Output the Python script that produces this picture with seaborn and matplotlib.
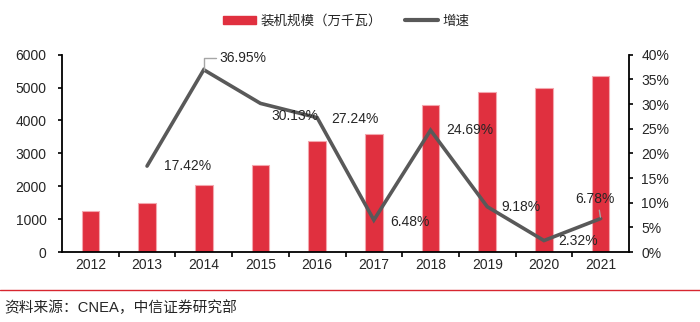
import numpy as np
import pandas as pd
import matplotlib
matplotlib.use("Agg")
import matplotlib.pyplot as plt
import seaborn as sns
from matplotlib.patches import Patch
from matplotlib.lines import Line2D
from matplotlib.ticker import FixedLocator, FuncFormatter

# ---- data ----
years = ["2012", "2013", "2014", "2015", "2016", "2017", "2018", "2019", "2020", "2021"]
capacity = [1257, 1475, 2025, 2640, 3370, 3585, 4466, 4880, 4995, 5340]
growth_years = ["2013", "2014", "2015", "2016", "2017", "2018", "2019", "2020", "2021"]
growth = [17.42, 36.95, 30.13, 27.24, 6.48, 24.69, 9.18, 2.32, 6.78]
bar_label = "装机规模（万千瓦）"
line_label = "增速"
source_text = "资料来源：CNEA，中信证券研究部"

# ---- style ----
BAR_COLOR = "#E0303F"
BAR_EDGE = "#F3A7AE"
LINE_COLOR = "#595959"
TEXT_COLOR = "#262626"
LATIN = ["Liberation Sans", "DejaVu Sans"]
MIXED = ["Liberation Sans", "Noto Sans CJK SC", "DejaVu Sans"]
# label offsets in pixels (dx, dy up) and alignment
label_offsets = [(17, 0, "left"), (16, 12, "left"), (34, -13, "center"), (38, -1, "center"),
                 (36, -2, "center"), (16, 0, "left"), (34, 0, "center"), (34, 0, "center"),
                 (-6, 20, "center")]

sns.set_theme(style="white")
plt.rcParams["font.family"] = LATIN

fig = plt.figure(figsize=(7.0, 3.22), dpi=100)
ax = fig.add_axes([62 / 700, 1 - 252 / 322, (629 - 62) / 700, (252 - 54.7) / 322])

df_bar = pd.DataFrame({"year": years, "capacity": capacity})
sns.barplot(data=df_bar, x="year", y="capacity", ax=ax, color=BAR_COLOR,
            width=0.31, edgecolor=BAR_EDGE, linewidth=0.8, saturation=1)
ax.set_xlim(-0.5, len(years) - 0.5)
ax.set_ylim(0, 6000)
ax.set_yticks(np.arange(0, 6001, 1000))
ax.set_xlabel("")
ax.set_ylabel("")

ax2 = ax.twinx()
pos = [years.index(y) for y in growth_years]
df_line = pd.DataFrame({"pos": pos, "growth": growth})
sns.lineplot(data=df_line, x="pos", y="growth", ax=ax2, color=LINE_COLOR,
             linewidth=2.6, solid_joinstyle="miter")
ax2.set_ylim(0, 40)
ax2.set_yticks(np.arange(0, 41, 5))
ax2.yaxis.set_major_formatter(FuncFormatter(lambda v, p: f"{v:.0f}%"))
ax2.set_xlim(-0.5, len(years) - 0.5)
ax2.set_xlabel("")
ax2.set_ylabel("")

# spines & ticks
for a in (ax, ax2):
    for s in a.spines.values():
        s.set_visible(False)
    a.grid(False)
ax.spines["left"].set_visible(True)
ax.spines["bottom"].set_visible(True)
ax2.spines["right"].set_visible(True)
for a, side in ((ax, "left"), (ax, "bottom"), (ax2, "right")):
    a.spines[side].set_color("black")
    a.spines[side].set_linewidth(1.3)

ax.tick_params(axis="y", which="major", left=True, direction="out", length=3,
               width=1.2, color="black", pad=8, labelsize=10, labelcolor=TEXT_COLOR)
ax2.tick_params(axis="y", which="major", right=True, direction="out", length=3,
                width=1.2, color="black", pad=6, labelsize=10, labelcolor=TEXT_COLOR)
ax.xaxis.set_minor_locator(FixedLocator(np.arange(0.5, len(years) - 1, 1)))
ax.tick_params(axis="x", which="major", length=0, pad=4, labelsize=10, labelcolor=TEXT_COLOR)
ax.tick_params(axis="x", which="minor", bottom=True, direction="out", length=3.5,
               width=1.2, color="black")
for lab in ax.get_xticklabels() + ax.get_yticklabels() + ax2.get_yticklabels():
    lab.set_family(LATIN)

# data labels
px = 0.72
for i, (p, g) in enumerate(zip(pos, growth)):
    dx, dy, ha = label_offsets[i]
    kw = {}
    if i == 1:
        kw["arrowprops"] = dict(arrowstyle="-", color="#A6A6A6", lw=1.0,
                                shrinkA=0, shrinkB=0, relpos=(0, 0.5),
                                connectionstyle="angle,angleA=0,angleB=90,rad=0")
    elif i == len(growth) - 1:
        kw["arrowprops"] = dict(arrowstyle="-", color="#A6A6A6", lw=1.0,
                                shrinkA=1, shrinkB=1, relpos=(0.6, 0))
    ax2.annotate(f"{g:.2f}%", xy=(p, g), xytext=(dx * px, dy * px),
                 textcoords="offset points", ha=ha, va="center",
                 fontsize=10, color=TEXT_COLOR, family=LATIN, **kw)

# legend
handles = [Patch(facecolor=BAR_COLOR, edgecolor=BAR_COLOR),
           Line2D([0], [0], color=LINE_COLOR, lw=3.0, solid_capstyle="round")]
leg = fig.legend(handles, [bar_label, line_label], loc="center",
                 bbox_to_anchor=(346 / 700, 1 - 21 / 322), ncol=2, frameon=False,
                 prop={"family": MIXED, "size": 9.7}, handlelength=2.5,
                 handleheight=0.55, handletextpad=0.3, columnspacing=1.7,
                 labelcolor=TEXT_COLOR)

# footer
fig.add_artist(Line2D([0.0, 1.0], [1 - 290 / 322, 1 - 290 / 322],
                      transform=fig.transFigure, color="#D7262F", lw=1.0))
fig.text(4 / 700, 1 - 307.5 / 322, source_text, ha="left", va="center",
         fontsize=10.6, color=TEXT_COLOR, family=MIXED)

fig.savefig("out.png", dpi=100)
